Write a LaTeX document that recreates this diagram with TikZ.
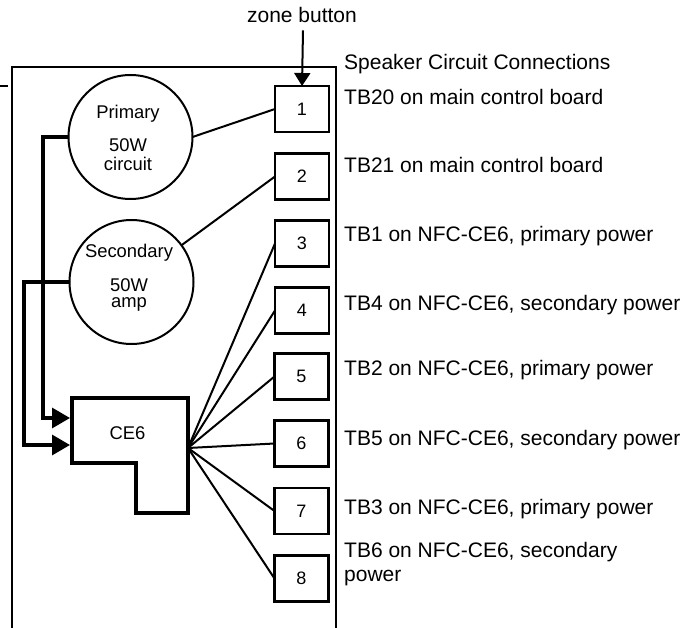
\documentclass[tikz,border=0pt]{standalone}
\usepackage{fontspec}
\setmainfont{Liberation Sans}
\usetikzlibrary{arrows.meta}
\begin{document}
\begin{tikzpicture}[x=1pt,y=-1pt,
  numbox/.style={draw, line width=2.3pt, minimum width=54pt, minimum height=46pt, outer sep=0pt, inner sep=0pt, font=\fontsize{18}{21}\selectfont},
  lbl/.style={anchor=base west, inner sep=0pt, font=\fontsize{21}{24}\selectfont, align=left},
  intxt/.style={anchor=base, inner sep=0pt, font=\fontsize{18.4}{21}\selectfont},
  circ/.style={draw, circle, line width=2pt, minimum size=124pt, inner sep=0pt, outer sep=0pt},
  wire/.style={line width=3.3pt, -{Triangle[length=18pt,width=20pt]}},
  conn/.style={line width=2pt},
  frame/.style={line width=2pt}]
\useasboundingbox (0,0) rectangle (696,628);
% outer frame
\draw[frame] (12,628) -- (12,67) -- (336,67) -- (336,628);
\draw[frame] (0,86) -- (8,86);
% title texts
\node[lbl, anchor=base] (zb) at (302,23) {zone button};
\node[lbl] (title) at (344,69.5) {Speaker Circuit Connections};
% boxes
\node[numbox] (b1) at (302,109) {1};
\node[numbox] (b2) at (302,176.5) {2};
\node[numbox] (b3) at (302,243.5) {3};
\node[numbox] (b4) at (302,310.5) {4};
\node[numbox] (b5) at (301.5,376.5) {5};
\node[numbox] (b6) at (301.5,443.5) {6};
\node[numbox] (b7) at (301.5,511) {7};
\node[numbox] (b8) at (301.5,578.5) {8};
% labels
\node[lbl] (l1) at (344,104.5) {TB20 on main control board};
\node[lbl] (l2) at (344,172.5) {TB21 on main control board};
\node[lbl] (l3) at (344,241.5) {TB1 on NFC-CE6, primary power};
\node[lbl] (l4) at (344,311) {TB4 on NFC-CE6, secondary power};
\node[lbl] (l5) at (344,375.5) {TB2 on NFC-CE6, primary power};
\node[lbl] (l6) at (344,445.5) {TB5 on NFC-CE6, secondary power};
\node[lbl] (l7) at (344,514.5) {TB3 on NFC-CE6, primary power};
\node[lbl] (l8) at (344,581.5) {TB6 on NFC-CE6, secondary\\power};
% circles
\node[circ] (pri) at (130.5,137) {};
\node[intxt] (pt1) at (128,119) {Primary};
\node[intxt] (pt2) at (128,151.5) {50W};
\node[intxt] (pt3) at (128,170.5) {circuit};
\node[circ] (sec) at (131.5,282) {};
\node[intxt] (st1) at (129,258) {Secondary};
\node[intxt] (st2) at (129,291) {50W};
\node[intxt] (st3) at (129,308) {amp};
% CE6 shape
\draw[line width=3.3pt] (72,398) -- (188,398) -- (188,513) -- (136,513) -- (136,463) -- (72,463) -- cycle;
\node[intxt, anchor=center] (ce6) at (127.5,433) {CE6};
\coordinate (ce6a) at (70,418);
\coordinate (ce6b) at (70,445);
\coordinate (fan) at (188,448);
% connections
\draw[conn, -{Triangle[length=13pt,width=16pt]}] (zb.south) ++(1,7) -- (b1.north);
\draw[conn] (pri.east) -- (b1.west);
\draw[conn] (sec) -- (b2.west);
\foreach \b in {b3,b4,b5,b6,b7,b8} \draw[conn] (fan) -- (\b.west);
\draw[wire] (pri.west) -- (43,137) -- (43,418) -- (ce6a);
\draw[wire] (sec.west) -- (24,282) -- (24,445) -- (ce6b);
\end{tikzpicture}
\end{document}
